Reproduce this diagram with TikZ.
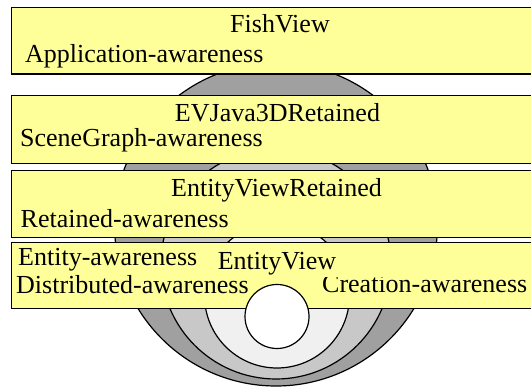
\documentclass[tikz,border=0pt]{standalone}
\usepackage{fontspec}
\setmainfont{Liberation Serif}
\newfontfamily\layerfont{Liberation Serif}
\usetikzlibrary{positioning}
\definecolor{boxyellow}{RGB}{255,255,153}
\definecolor{ringouter}{RGB}{160,160,160}
\definecolor{ringmid}{RGB}{200,200,200}
\definecolor{ringinner}{RGB}{240,240,240}

\begin{document}
\begin{tikzpicture}[x=1pt, y=-1pt,
    layer/.style={draw, line width=1.2pt, fill=boxyellow, anchor=north west, minimum width=530pt, inner sep=0},
    ring/.style={draw, line width=1.2pt},
    lbl/.style={font=\layerfont\fontsize{26}{30}\selectfont, inner sep=0}]
      \useasboundingbox (0,0) rectangle (531,387);
      % rings behind the layers
      \filldraw[ring, fill=ringouter] (276,224.5) circle (161.5);
      \filldraw[ring, fill=ringmid] (276,264) circle (115);
      \filldraw[ring, fill=ringinner] (277,295.5) circle (72.5);
      % layers
      \node[layer, minimum height=66.5pt] (fish) at (11,7) {};
      \node[lbl, anchor=base] (fishname) at (280,33) {FishView};
      \node[lbl, anchor=base west] (app) at (25,62.5) {Application-awareness};
      \node[layer, minimum height=68pt] (ev3d) at (11,95) {};
      \node[lbl, anchor=base] (ev3dname) at (277.5,121.5) {EVJava3DRetained};
      \node[lbl, anchor=base west] (scene) at (20,146.5) {SceneGraph-awareness};
      \node[layer, minimum height=67pt] (evr) at (11,170) {};
      \node[lbl, anchor=base] (evrname) at (276.5,196.5) {EntityViewRetained};
      \node[lbl, anchor=base west] (retained) at (20.5,228) {Retained-awareness};
      \node[layer, minimum height=66pt] (ev) at (11,242) {};
      \node[lbl, anchor=base] (evname) at (277,270) {EntityView};
      \node[lbl, anchor=base west] (entity) at (18,266) {Entity-awareness};
      \node[lbl, anchor=base west] (distrib) at (16,293.5) {Distributed-awareness};
      \begin{scope}
        \clip (0,278) rectangle (531,308);
        \node[lbl, anchor=base west] (creation) at (322,293) {Creation-awareness};
      \end{scope}
      % core on top
      \filldraw[ring, fill=white] (277,316.5) circle (32);
\end{tikzpicture}
\end{document}
